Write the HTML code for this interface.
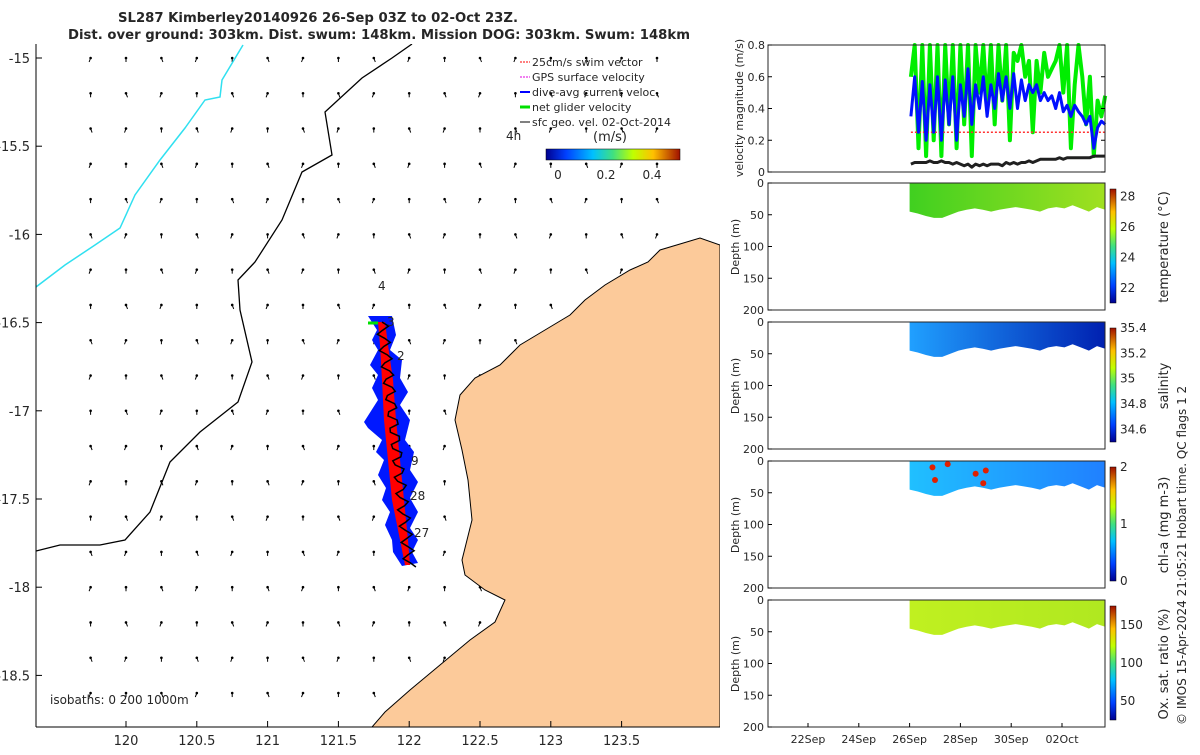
<!DOCTYPE html>
<html><head><meta charset="utf-8"><style>
body{margin:0;background:#fff;}
svg text{font-family:"DejaVu Sans","Liberation Sans",sans-serif;fill:#262626;}
</style></head><body>
<svg id="fig" width="1200" height="750" xmlns="http://www.w3.org/2000/svg">
<defs>
<linearGradient id="jet" x1="0" y1="1" x2="0" y2="0">
<stop offset="0" stop-color="#00008f"/><stop offset="0.15" stop-color="#0040ff"/><stop offset="0.35" stop-color="#00c0ff"/><stop offset="0.5" stop-color="#40e080"/><stop offset="0.65" stop-color="#c0ff00"/><stop offset="0.8" stop-color="#ffc000"/><stop offset="1" stop-color="#a01000"/></linearGradient>
<linearGradient id="jeth" x1="0" y1="0" x2="1" y2="0">
<stop offset="0" stop-color="#00008f"/><stop offset="0.15" stop-color="#0040ff"/><stop offset="0.35" stop-color="#00c0ff"/><stop offset="0.5" stop-color="#40e080"/><stop offset="0.65" stop-color="#c0ff00"/><stop offset="0.8" stop-color="#ffc000"/><stop offset="1" stop-color="#a01000"/></linearGradient>
<clipPath id="mapclip"><rect x="36" y="44" width="684" height="683"/></clipPath>
</defs>
<text x="118" y="22" font-size="13.3" font-weight="bold" textLength="400" lengthAdjust="spacingAndGlyphs">SL287 Kimberley20140926 26-Sep 03Z to 02-Oct 23Z.</text>
<text x="68" y="39" font-size="13.3" font-weight="bold" textLength="622" lengthAdjust="spacingAndGlyphs">Dist. over ground: 303km. Dist. swum: 148km. Mission DOG: 303km. Swum: 148km</text>
<g id="map" clip-path="url(#mapclip)"></g>
<g id="mapaxes"></g>
<g id="legend" font-size="11">
<line x1="520" y1="62" x2="530" y2="62" stroke="red" stroke-dasharray="2,1"/><text x="532" y="66">25cm/s swim vector</text>
<line x1="520" y1="77" x2="530" y2="77" stroke="#e000e0" stroke-dasharray="2,1"/><text x="532" y="81">GPS surface velocity</text>
<line x1="520" y1="92" x2="530" y2="92" stroke="#0000ff" stroke-width="2"/><text x="532" y="96">dive-avg current veloc.</text>
<line x1="520" y1="107" x2="530" y2="107" stroke="#00e000" stroke-width="3"/><text x="532" y="111">net glider velocity</text>
<line x1="520" y1="122" x2="530" y2="122" stroke="#000"/><text x="532" y="126">sfc geo. vel. 02-Oct-2014</text>
<text x="506" y="140" font-size="12">4h</text>
<text x="593" y="141" font-size="13">(m/s)</text>
<rect x="546" y="149" width="134" height="11" fill="url(#jeth)" stroke="#000" stroke-width="0.5"/>
<text x="558" y="179" text-anchor="middle" font-size="12">0</text><text x="606" y="179" text-anchor="middle" font-size="12">0.2</text><text x="652" y="179" text-anchor="middle" font-size="12">0.4</text>
</g>
<g id="panels"></g>
<text transform="translate(1186,725) rotate(-90)" font-size="12">© IMOS 15-Apr-2024 21:05:21 Hobart time. QC flags 1  2</text>
</svg>
<script>
const NS="http://www.w3.org/2000/svg";
function mk(tag,attrs,parent,txt){const e=document.createElementNS(NS,tag);for(const k in attrs)e.setAttribute(k,attrs[k]);if(txt!==undefined)e.textContent=txt;parent.appendChild(e);return e;}
// ---------- map data ----------
const lonTicks=[120,120.5,121,121.5,122,122.5,123,123.5];
const latTicks=[-15,-15.5,-16,-16.5,-17,-17.5,-18,-18.5];
const lonX=l=>126+(l-120)*141.6;
const latY=l=>58+(-15-l)*176.4;
const map=document.getElementById('map');
const ax=document.getElementById('mapaxes');
const gridLon=[119.75,120,120.25,120.5,120.75,121,121.25,121.5,121.75,122,122.25,122.5,122.75,123,123.25,123.5,123.75];
const gridLat=[-15,-15.2,-15.4,-15.6,-15.8,-16,-16.2,-16.4,-16.6,-16.8,-17,-17.2,-17.4,-17.6,-17.8,-18,-18.2,-18.4,-18.6];
const ag=mk('g',{},map);


gridLon.forEach((lo,i)=>gridLat.forEach((la,j)=>{
 const x=lonX(lo),y=latY(la);const dx=((i+j)%3-1)*1.5,dy=4;
 mk('line',{x1:x,y1:y,x2:x+dx,y2:y+dy,stroke:'#000','stroke-width':1},ag);
 mk('circle',{cx:x,cy:y,r:1.3,fill:'#000'},ag);
}));
const land=mk('polygon',{points:"720,245 700,238 680,244 660,250 648,262 630,270 605,285 585,300 570,315 545,330 520,345 500,365 475,378 460,395 455,420 462,450 468,480 472,520 462,560 465,575 485,590 505,600 495,622 470,640 440,665 410,690 385,712 372,727 720,727",fill:'#fcca9a',stroke:'#000','stroke-width':1},map);


const coast=mk('polyline',{points:"36,551 60,545 100,545 125,540 150,512 170,462 200,432 238,402 252,362 240,310 238,280 255,262 282,220 302,172 332,155 325,112 362,78 392,58 412,44",fill:'none',stroke:'#000','stroke-width':1.3},map);


const cy=mk('polyline',{points:"36,287 65,265 95,245 120,228 135,195 160,160 185,128 205,100 220,97 222,80 243,45",fill:'none',stroke:'#30e0f0','stroke-width':1.5},map);


const tg=mk('g',{},map);


mk('polygon',{points:"368,316 392,316 396,335 390,350 402,360 400,378 408,392 400,405 410,420 405,440 414,452 410,470 418,482 410,498 418,512 410,528 418,540 412,552 418,563 402,566 393,552 392,540 385,525 390,512 382,500 386,488 378,475 384,460 376,452 382,440 368,428 364,422 378,400 372,388 378,375 370,365 378,350 372,340 377,330",fill:'#0018ff'},tg);
mk('polygon',{points:"378,322 385,322 388,345 393,380 396,420 400,460 404,500 408,540 410,565 405,565 398,530 392,500 388,460 384,420 382,380 380,345",fill:'#ff0000'},tg);
let pts=[];for(let k=0;k<=60;k++){const t=k/60;const y=322+t*245;const x=382+t*28+Math.sin(k*1.6)*6;pts.push(x.toFixed(1)+','+y.toFixed(1));}
mk('polyline',{points:pts.join(' '),fill:'none',stroke:'#000','stroke-width':1.5},tg);
mk('line',{x1:368,y1:323,x2:378,y2:323,stroke:'#00e000','stroke-width':3},tg);
[["4",378,290],["3",387,326],["2",397,360],["9",411,465],["28",410,500],["27",414,537]].forEach(d=>mk('text',{x:d[1],y:d[2],'font-size':12},tg,d[0]));
const iso=mk('text',{x:50,y:704,'font-size':12},map,'isobaths: 0   200  1000m');


mk('line',{x1:36,y1:44,x2:36,y2:727,stroke:'#000'},ax);
mk('line',{x1:36,y1:727,x2:720,y2:727,stroke:'#000'},ax);
lonTicks.forEach(l=>{const x=lonX(l);mk('line',{x1:x,y1:727,x2:x,y2:721,stroke:'#000'},ax);mk('text',{x:x,y:745,'font-size':13,'text-anchor':'middle'},ax,String(l));});
latTicks.forEach(l=>{const y=latY(l);mk('line',{x1:36,y1:y,x2:42,y2:y,stroke:'#000'},ax);mk('text',{x:30,y:y+5,'font-size':13,'text-anchor':'end'},ax,String(l));});
// ---------- velocity chart data ----------
const velDays=[4.05,4.2,4.35,4.5,4.65,4.8,4.95,5.1,5.25,5.4,5.55,5.7,5.85,6.0,6.15,6.3,6.45,6.6,6.75,6.9,7.05,7.2,7.35,7.5,7.65,7.8,7.95,8.1,8.25,8.4,8.55,8.7,8.85,9.0,9.15,9.3,9.45,9.6,9.75,9.9,10.05,10.2,10.35,10.5,10.65,10.8,10.95,11.1,11.25,11.4,11.55,11.7];
const netVel=[0.6,0.8,0.15,0.8,0.1,0.8,0.2,0.8,0.1,0.8,0.3,0.8,0.15,0.8,0.3,0.8,0.1,0.8,0.5,0.8,0.4,0.8,0.3,0.8,0.45,0.8,0.2,0.75,0.7,0.8,0.6,0.7,0.25,0.7,0.5,0.75,0.6,0.65,0.7,0.8,0.5,0.8,0.15,0.55,0.8,0.6,0.3,0.6,0.1,0.45,0.35,0.48];
const dacVel=[0.35,0.6,0.25,0.57,0.2,0.55,0.25,0.6,0.2,0.58,0.3,0.6,0.2,0.55,0.35,0.65,0.3,0.55,0.4,0.6,0.35,0.55,0.4,0.62,0.45,0.6,0.4,0.62,0.4,0.58,0.45,0.55,0.5,0.55,0.45,0.5,0.45,0.48,0.4,0.5,0.38,0.42,0.35,0.42,0.38,0.35,0.3,0.35,0.15,0.28,0.32,0.3];
const swimVel=[0.25,0.25,0.25,0.25,0.25,0.25,0.25,0.25,0.25,0.25,0.25,0.25,0.25,0.25,0.25,0.25,0.25,0.25,0.25,0.25,0.25,0.25,0.25,0.25,0.25,0.25,0.25,0.25,0.25,0.25,0.25,0.25,0.25,0.25,0.25,0.25,0.25,0.25,0.25,0.25,0.25,0.25,0.25,0.25,0.25,0.25,0.25,0.25,0.25,0.25,0.25,0.25];
const geoVel=[0.05,0.06,0.06,0.06,0.06,0.07,0.06,0.06,0.07,0.06,0.06,0.05,0.06,0.05,0.04,0.05,0.03,0.05,0.04,0.05,0.04,0.05,0.05,0.05,0.04,0.06,0.05,0.06,0.05,0.06,0.06,0.07,0.06,0.07,0.08,0.08,0.08,0.08,0.08,0.09,0.08,0.09,0.09,0.09,0.09,0.09,0.09,0.09,0.1,0.1,0.1,0.1];
const velTicks=[0,0.2,0.4,0.6,0.8];
const dateTicks=[0,2,4,6,8,10];
const dateLabels=['22Sep','24Sep','26Sep','28Sep','30Sep','02Oct'];
const PX0=768,PX1=1105;
const dayX=d=>808+d*25.4;
const P=document.getElementById('panels');
const vy=v=>172-v/0.8*127;
const vp=mk('g',{},P);


const line=(arr,col,w,dash,name)=>{const l=mk('polyline',{points:velDays.map((d,i)=>dayX(d).toFixed(1)+','+vy(arr[i]).toFixed(1)).join(' '),fill:'none',stroke:col,'stroke-width':w,'stroke-dasharray':dash||'none','stroke-linejoin':'round'},vp);};
line(netVel,'#00ee00',4,null,'net-glider-velocity-line');
line(swimVel,'#ff3030',1.5,'2,2','swim-vector-line');
line(dacVel,'#0010ff',3,null,'dive-avg-current-line');
line(geoVel,'#202020',3,null,'geo-velocity-line');
mk('rect',{x:PX0,y:45,width:PX1-PX0,height:127,fill:'none',stroke:'#262626'},vp);
velTicks.forEach(v=>{const y=vy(v);mk('line',{x1:PX0,y1:y,x2:PX0+4,y2:y,stroke:'#000'},vp);mk('line',{x1:PX1,y1:y,x2:PX1-4,y2:y,stroke:'#000'},vp);mk('text',{x:PX0-3,y:y+4,'font-size':11,'text-anchor':'end'},vp,String(v));});
mk('text',{transform:'translate(743,108) rotate(-90)','font-size':11,'text-anchor':'middle'},vp,'velocity magnitude (m/s)');
const panels=[{top:183,name:'temperature',label:'temperature (°C)',ticks:[22,24,26,28],min:21,max:28.5,fill:['#40d020','#a0e020']},
{top:322,name:'salinity',label:'salinity',ticks:[34.6,34.8,35,35.2,35.4],min:34.5,max:35.4,fill:['#20a0ff','#0020b0']},
{top:461,name:'chlorophyll',label:'chl-a (mg m-3)',ticks:[0,1,2],min:0,max:2,fill:['#20c0ff','#2080ff']},
{top:600,name:'oxygen',label:'Ox. sat. ratio (%)',ticks:[50,100,150],min:25,max:175,fill:['#c0f020','#b0e820']}];
const depthTicks=[0,50,100,150,200];
const bottomDepth=[45,48,52,55,55,50,45,42,40,42,45,42,40,38,40,42,45,40,38,40,35,40,45,38,42];
panels.forEach((p,pi)=>{
 const g=mk('g',{},P);
 const H=127,dy=d=>p.top+d/200*H;
 let pts=[dayX(4.0)+','+dy(0)];
 bottomDepth.forEach((b,i)=>{const d=4.0+i*(7.7/(bottomDepth.length-1));pts.push(dayX(d).toFixed(1)+','+dy(b).toFixed(1));});
 pts.push(dayX(11.7)+','+dy(0));
 const gid='g'+pi;const lg=mk('linearGradient',{id:gid,x1:0,y1:0,x2:1,y2:0},document.querySelector('defs'));
 mk('stop',{offset:0,'stop-color':p.fill[0]},lg);mk('stop',{offset:1,'stop-color':p.fill[1]},lg);
 mk('polygon',{points:pts.join(' '),fill:'url(#'+gid+')'},g);
 if(pi==2){[[4.9,10],[5.0,30],[6.6,20],[6.9,35],[7.0,15],[5.5,5]].forEach(s=>mk('circle',{cx:dayX(s[0]),cy:dy(s[1]),r:3,fill:'#e02000'},g));}
 mk('rect',{x:PX0,y:p.top,width:PX1-PX0,height:H,fill:'none',stroke:'#262626'},g);
 depthTicks.forEach(d=>{const y=dy(d);mk('line',{x1:PX0,y1:y,x2:PX0+4,y2:y,stroke:'#000'},g);mk('text',{x:PX0-4,y:y+4,'font-size':11,'text-anchor':'end'},g,String(d));});
 mk('text',{transform:'translate(739,'+(p.top+64)+') rotate(-90)','font-size':11,'text-anchor':'middle'},g,'Depth (m)');
 const cb=mk('rect',{x:1110,y:p.top+6,width:6,height:114,fill:'url(#jet)',stroke:'#000','stroke-width':0.5},g);
 
 p.ticks.forEach(t=>{const y=p.top+120-(t-p.min)/(p.max-p.min)*114;mk('text',{x:1120,y:y+4,'font-size':12},g,String(t));});
 mk('text',{transform:'translate(1168,'+(p.top+64)+') rotate(-90)','font-size':13,'text-anchor':'middle'},g,p.label);
});
dateTicks.forEach((d,i)=>{const x=dayX(d);mk('line',{x1:x,y1:727,x2:x,y2:723,stroke:'#000'},P);mk('text',{x:x,y:743,'font-size':11,'text-anchor':'middle'},P,dateLabels[i]);});
</script>
</body></html>
